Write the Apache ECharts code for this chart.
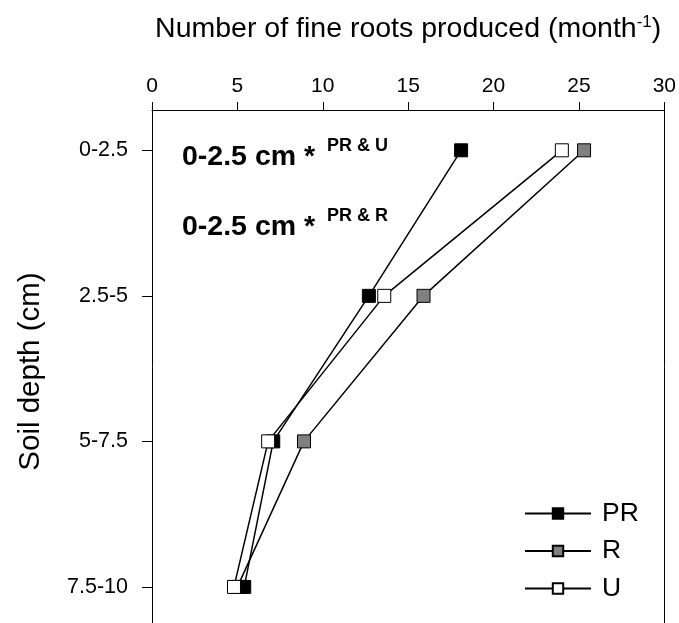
<!DOCTYPE html>
<html><head><meta charset="utf-8">
<script src="https://cdn.jsdelivr.net/npm/echarts@6/dist/echarts.min.js"></script>
<style>html,body{margin:0;padding:0;background:#fff}#c{width:679px;height:623px}</style>
</head><body><div id="c"></div>
<script>
const depthLabels = ['0-2.5', '2.5-5', '5-7.5', '7.5-10'];
const depthPos = [0, 1, 2, 3];
const xTicks = [0, 5, 10, 15, 20, 25, 30];
const seriesNames = ['PR', 'R', 'U'];
const prValues = [18.1, 12.7, 7.1, 5.4];
const rValues = [25.3, 15.9, 8.9, 5.0];
const uValues = [24.0, 13.6, 6.8, 4.8];
const annotations = [['0-2.5 cm *', 'PR & U'], ['0-2.5 cm *', 'PR & R']];

const font = '"Liberation Sans", Arial, sans-serif';
const chart = echarts.init(document.getElementById('c'));
function mk(name, vals, color, z) {
  return {
    name: name, type: 'line', z: z,
    data: vals.map((v, i) => [v, depthPos[i]]),
    symbol: 'rect', symbolSize: 13,
    lineStyle: { color: '#000', width: 1.5 },
    itemStyle: { color: color, borderColor: '#000', borderWidth: 1 },
    emphasis: { disabled: true }, animation: false
  };
}
const yMin = -0.277, yMax = 3.248;
chart.setOption({
  animation: false,
  grid: { left: 152, right: 13, top: 110, bottom: -10 },
  xAxis: {
    type: 'value', position: 'top', min: xTicks[0], max: xTicks[xTicks.length - 1], interval: 5,
    name: 'Number of fine roots produced (month{sup|-1})',
    nameLocation: 'middle', nameGap: 65,
    nameTextStyle: { fontFamily: font, fontSize: 28.5, color: '#000',
      rich: { sup: { fontFamily: font, fontSize: 17, color: '#000', padding: [0, 0, 14, 0] } } },
    axisLine: { onZero: false, lineStyle: { color: '#000', width: 1 } },
    axisTick: { show: true, length: 8, lineStyle: { color: '#000' } },
    axisLabel: { fontFamily: font, fontSize: 21, color: '#000', margin: 13 },
    splitLine: { show: false }
  },
  yAxis: [{
    type: 'value', inverse: true, min: yMin, max: yMax,
    name: 'Soil depth (cm)', nameLocation: 'middle', nameGap: 106, nameRotate: 90,
    nameTextStyle: { fontFamily: font, fontSize: 29.5, color: '#000', padding: [0, 10, 0, 0] },
    axisLine: { show: true, onZero: false, lineStyle: { color: '#000', width: 1 } },
    axisTick: { show: true, length: 10, customValues: depthPos, lineStyle: { color: '#000' } },
    axisLabel: { fontFamily: font, fontSize: 21.5, color: '#000', margin: 24, customValues: depthPos,
      formatter: v => depthLabels[Math.round(v)] },
    splitLine: { show: false }
  }, {
    type: 'value', position: 'right', inverse: true, min: yMin, max: yMax,
    axisLine: { show: true, onZero: false, lineStyle: { color: '#000', width: 1 } },
    axisTick: { show: false }, axisLabel: { show: false }, splitLine: { show: false }
  }],
  legend: {
    orient: 'vertical', left: 519, top: 495, itemWidth: 66, itemHeight: 13, itemGap: 10.5,
    data: seriesNames,
    textStyle: { fontFamily: font, fontSize: 26.5, color: '#000', padding: [0, 0, 0, 6] }
  },
  graphic: annotations.flatMap((a, i) => [
    { type: 'text', left: 182, top: 142.5 + i * 70, silent: true,
      style: { text: a[0], font: 'bold 28.5px ' + font, fill: '#000' } },
    { type: 'text', left: 327, top: 137.5 + i * 70, silent: true,
      style: { text: a[1], font: 'bold 18px ' + font, fill: '#000' } }
  ]),
  series: [mk('R', rValues, '#808080', 2), mk('PR', prValues, '#000', 3), mk('U', uValues, '#fff', 4)]
});
</script></body></html>
